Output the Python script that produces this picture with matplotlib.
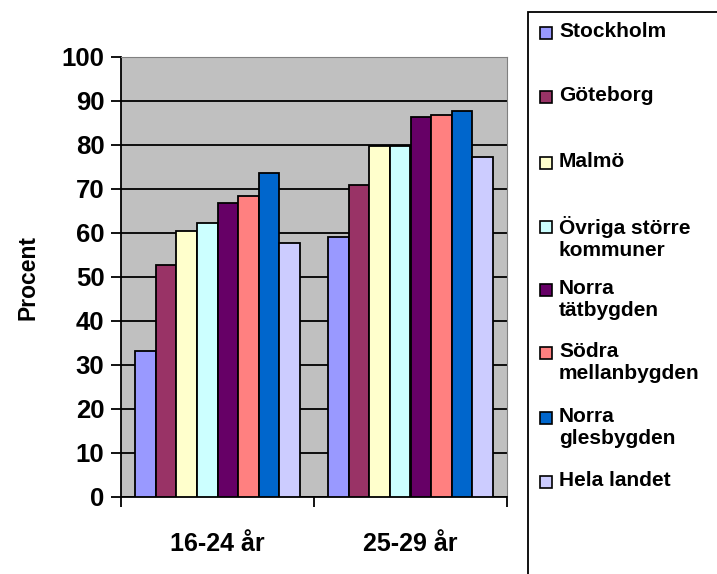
import matplotlib
matplotlib.use('Agg')
from matplotlib import pyplot as plt
from matplotlib.patches import Rectangle
import numpy as np

plt.rcParams['font.family'] = ['Liberation Sans', 'DejaVu Sans']
plt.rcParams['font.weight'] = 'bold'

age_groups = ['16-24 år', '25-29 år']
regions = ['Stockholm', 'Göteborg', 'Malmö', 'Övriga större\nkommuner', 'Norra\ntätbygden',
           'Södra\nmellanbygden', 'Norra\nglesbygden', 'Hela landet']
values = [
    [33.2, 59.1],   # Stockholm
    [52.7, 70.9],   # Göteborg
    [60.5, 79.8],   # Malmö
    [62.3, 79.8],   # Övriga större kommuner
    [66.9, 86.4],   # Norra tätbygden
    [68.3, 86.8],   # Södra mellanbygden
    [73.6, 87.8],   # Norra glesbygden
    [57.8, 77.3],   # Hela landet
]
colors = ['#9999FF', '#993366', '#FFFFCC', '#CCFFFF', '#660066', '#FF8080', '#0066CC', '#CCCCFF']
y_ticks = list(range(0, 101, 10))

W, H = 717, 574
fig = plt.figure(figsize=(W / 100, H / 100), dpi=100)
ax = fig.add_axes([121 / W, (H - 497) / H, 386 / W, 440 / H])
ax.set_facecolor('#C0C0C0')

x = np.arange(len(age_groups))
bw = 0.855 / len(regions)
for i, name in enumerate(regions):
    pos = x - 0.855 / 2 + bw * (i + 0.5)
    ax.bar(pos, values[i], width=bw, color=colors[i], edgecolor='black', linewidth=1.3, zorder=3)

ax.set_xlim(-0.5, 1.5)
ax.set_ylim(0, 100)
ax.set_yticks(y_ticks)
ax.set_yticklabels([str(t) for t in y_ticks], fontsize=18.5, fontweight='bold')
ax.yaxis.grid(True, color='black', linewidth=1.3, zorder=0)
ax.set_axisbelow(True)
ax.set_xticks([-0.5, 0.5, 1.5])
ax.set_xticklabels([])
ax.set_xticks([0, 1], minor=True)
ax.set_xticklabels(age_groups, minor=True, fontsize=18, fontweight='bold')
ax.tick_params(axis='x', which='minor', length=0, pad=25)
ax.tick_params(axis='x', which='major', direction='out', length=7, width=1.3)
ax.tick_params(axis='y', direction='out', length=7, width=1.3, pad=5)
ax.set_ylabel('Procent', fontsize=16.5, fontweight='bold', labelpad=16)

ax.spines['left'].set_linewidth(1.3)
ax.spines['bottom'].set_linewidth(1.3)
ax.spines['top'].set_color('#808080')
ax.spines['right'].set_color('#808080')

# legend box, runs off the right and bottom edge
fig.patches.append(Rectangle((528 / W, -0.1), 1.0, (H - 12) / H + 0.1, transform=fig.transFigure,
                             facecolor='white', edgecolor='black', linewidth=1.3))
slot_y = [33, 97, 163, 227, 290, 353, 418, 482]
for i, name in enumerate(regions):
    yc = slot_y[i]
    fig.patches.append(Rectangle((540 / W, (H - yc - 6) / H), 12 / W, 12 / H, transform=fig.transFigure,
                                 facecolor=colors[i], edgecolor='black', linewidth=1.2))
    fig.text(559 / W, (H - yc + 11) / H, name, fontsize=15, fontweight='bold', va='top', ha='left',
             linespacing=1.2)

fig.savefig('out.png', dpi=100)
